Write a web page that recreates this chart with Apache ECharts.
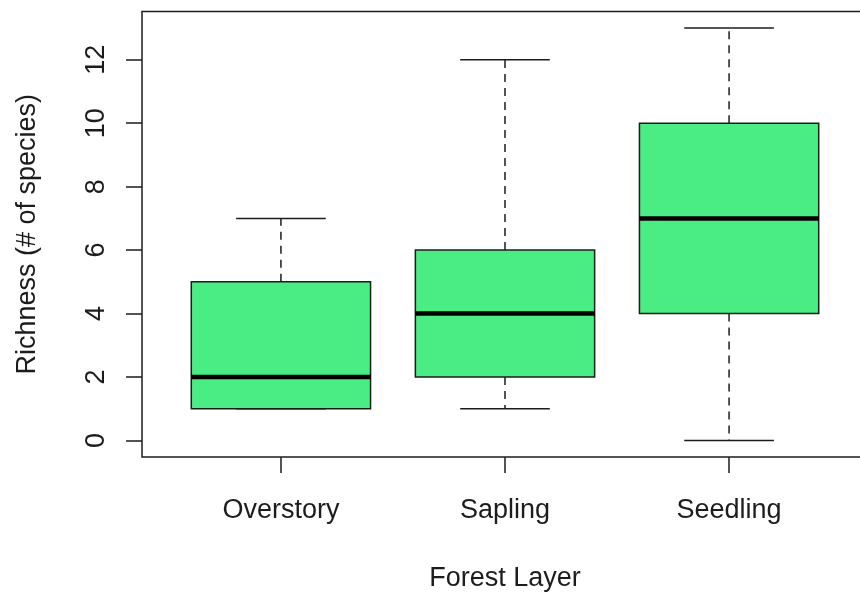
<!DOCTYPE html>
<html>
<head>
<meta charset="utf-8">
<title>Richness by forest layer</title>
<script src="https://cdn.jsdelivr.net/npm/echarts@6/dist/echarts.min.js"></script>
<style>
  html, body { margin: 0; padding: 0; background: #ffffff; }
  #chart { width: 860px; height: 592px; }
</style>
</head>
<body>
<div id="chart"></div>
<script>
// Five-number summaries per forest layer
const categories = ['Overstory', 'Sapling', 'Seedling'];
const lowerWhisker = [1, 1, 0];
const lowerQuartile = [1, 2, 4];
const medians = [2, 4, 7];
const upperQuartile = [5, 6, 10];
const upperWhisker = [7, 12, 13];
const yTicks = [0, 2, 4, 6, 8, 10, 12];

const boxData = categories.map((c, i) => [
  i + 1, lowerWhisker[i], lowerQuartile[i], medians[i], upperQuartile[i], upperWhisker[i]
]);

const FONT = '"Liberation Sans", Arial, Helvetica, sans-serif';
const INK = '#1c1c1c';
const FILL = '#49ED83';

const chart = echarts.init(document.getElementById('chart'), null, { renderer: 'canvas' });

function renderBox(params, api) {
  const x = api.value(0);
  const lo = api.coord([x, api.value(1)]);
  const q1 = api.coord([x, api.value(2)]);
  const med = api.coord([x, api.value(3)]);
  const q3 = api.coord([x, api.value(4)]);
  const hi = api.coord([x, api.value(5)]);
  const halfBox = api.size([0.8, 0])[0] / 2;
  const halfCap = halfBox / 2;
  const cx = q1[0];
  const dashed = { stroke: INK, lineWidth: 1.5, lineDash: [8, 6] };
  const solid = { stroke: INK, lineWidth: 1.5 };
  return {
    type: 'group',
    children: [
      { type: 'line', shape: { x1: cx, y1: q3[1], x2: cx, y2: hi[1] }, style: dashed },
      { type: 'line', shape: { x1: cx, y1: q1[1], x2: cx, y2: lo[1] }, style: dashed },
      { type: 'line', shape: { x1: cx - halfCap, y1: hi[1], x2: cx + halfCap, y2: hi[1] }, style: solid },
      { type: 'line', shape: { x1: cx - halfCap, y1: lo[1], x2: cx + halfCap, y2: lo[1] }, style: solid },
      {
        type: 'rect',
        shape: { x: cx - halfBox, y: q3[1], width: halfBox * 2, height: q1[1] - q3[1] },
        style: { fill: FILL, stroke: INK, lineWidth: 1.5 }
      },
      {
        type: 'line',
        shape: { x1: cx - halfBox, y1: med[1], x2: cx + halfBox, y2: med[1] },
        style: { stroke: '#000000', lineWidth: 4.5 }
      }
    ]
  };
}

const option = {
  animation: false,
  backgroundColor: '#ffffff',
  grid: {
    show: true,
    left: 142,
    right: -8,
    top: 11.5,
    bottom: 135,
    borderColor: INK,
    borderWidth: 1.5,
    containLabel: false,
    outerBoundsMode: 'none'
  },
  xAxis: {
    type: 'value',
    min: 0.38,
    max: 3.62,
    name: 'Forest Layer',
    nameLocation: 'middle',
    nameGap: 108,
    nameTextStyle: { fontFamily: FONT, fontSize: 27, color: INK },
    splitLine: { show: false },
    axisLine: { show: false, onZero: false },
    axisTick: {
      show: true,
      customValues: [1, 2, 3],
      length: 16,
      inside: false,
      lineStyle: { color: INK, width: 1.5 }
    },
    axisLabel: {
      customValues: [1, 2, 3],
      formatter: v => categories[Math.round(v) - 1],
      margin: 40,
      fontFamily: FONT,
      fontSize: 27,
      color: INK
    }
  },
  yAxis: {
    type: 'value',
    min: -0.52,
    max: 13.52,
    name: 'Richness (# of species)',
    nameLocation: 'middle',
    nameGap: 101,
    nameRotate: 90,
    nameTextStyle: { fontFamily: FONT, fontSize: 27, color: INK },
    splitLine: { show: false },
    axisLine: { show: false, onZero: false },
    axisTick: {
      show: true,
      customValues: yTicks,
      length: 16,
      inside: false,
      lineStyle: { color: INK, width: 1.5 }
    },
    axisLabel: {
      customValues: yTicks,
      rotate: 90,
      align: 'center',
      verticalAlign: 'bottom',
      margin: 32,
      fontFamily: FONT,
      fontSize: 27,
      color: INK
    }
  },
  series: [{
    type: 'custom',
    name: 'Richness',
    dimensions: ['layer', 'min', 'q1', 'median', 'q3', 'max'],
    encode: { x: 0, y: [1, 2, 3, 4, 5] },
    data: boxData,
    renderItem: renderBox,
    clip: false
  }]
};

chart.setOption(option);
</script>
</body>
</html>
